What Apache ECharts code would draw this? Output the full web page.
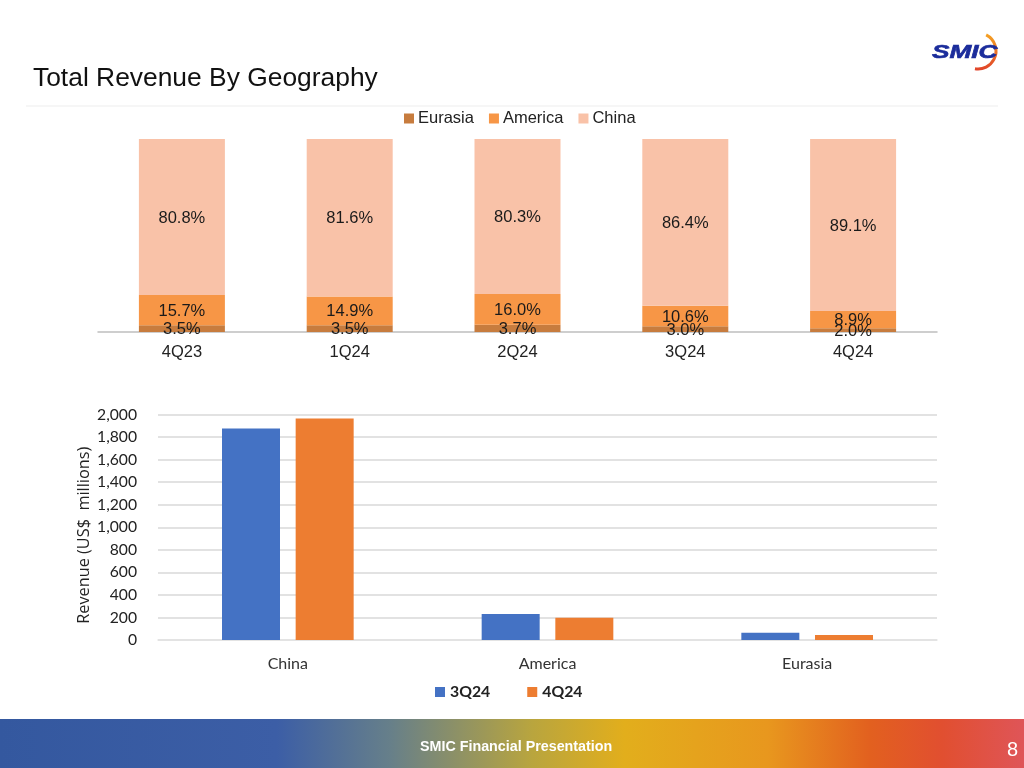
<!DOCTYPE html>
<html>
<head>
<meta charset="utf-8">
<title>Total Revenue By Geography</title>
<style>
html,body{margin:0;padding:0;background:#fff;}
#main{width:1024px;height:768px;}
</style>
<script src="https://cdn.jsdelivr.net/npm/echarts@6/dist/echarts.min.js"></script>
</head>
<body>
<div id="main"></div>
<script>
// top chart: share of revenue, %
var quarters = ["4Q23","1Q24","2Q24","3Q24","4Q24"];
var eurasiaShare = [3.5,3.5,3.7,3.0,2.0];
var americaShare = [15.7,14.9,16.0,10.6,8.9];
var chinaShare = [80.8,81.6,80.3,86.4,89.1];
// bottom chart: revenue, US$ millions
var regions = ["China","America","Eurasia"];
var revenue3Q24 = [1875,230,65];
var revenue4Q24 = [1965,198,45];

var arial = "Liberation Sans";
var calibri = "Lato";

function shareSeries(name, data, color){
    return {
        name: name,
        type: "bar",
        stack: "share",
        xAxisIndex: 0,
        yAxisIndex: 0,
        barWidth: 86,
        data: data,
        itemStyle: { color: color },
        label: {
            show: true,
            position: "inside",
            offset: [0,1],
            color: "#1a1a1a",
            fontFamily: arial,
            fontSize: 16.5,
            formatter: function(p){ return p.value.toFixed(1) + "%"; }
        }
    };
}
function revenueSeries(name, data, color){
    return {
        name: name,
        type: "bar",
        xAxisIndex: 1,
        yAxisIndex: 1,
        barWidth: 58,
        barGap: "27%",
        data: data,
        itemStyle: { color: color }
    };
}

var chart = echarts.init(document.getElementById("main"));
var option = {
    animation: false,
    backgroundColor: "#fff",
    legend: [{
        data: ["Eurasia","America","China"],
        left: 399,
        top: 105,
        itemWidth: 10,
        itemHeight: 10,
        itemGap: 15,
        icon: "rect",
        textStyle: { fontFamily: arial, fontSize: 16.5, color: "#222", padding: [0,0,0,-1] }
    },{
        data: ["3Q24","4Q24"],
        left: 430,
        top: 679,
        itemWidth: 10,
        itemHeight: 10,
        itemGap: 37,
        icon: "rect",
        textStyle: { fontFamily: calibri, fontSize: 15.8, fontWeight: "bold", color: "#222" }
    }],
    grid: [
        { left: 98, right: 87, top: 139, height: 193 },
        { left: 158, right: 87, top: 414.5, height: 225.5 }
    ],
    xAxis: [{
        gridIndex: 0,
        type: "category",
        data: quarters,
        axisTick: { show: false },
        axisLine: { lineStyle: { color: "#BFBFBF", width: 1.5 } },
        axisLabel: { fontFamily: arial, fontSize: 16.5, color: "#222", margin: 12 }
    },{
        gridIndex: 1,
        type: "category",
        data: regions,
        axisTick: { show: false },
        axisLine: { lineStyle: { color: "#E3E3E3", width: 1.5 } },
        axisLabel: { fontFamily: calibri, fontSize: 16, color: "#333", margin: 16 }
    }],
    yAxis: [{
        gridIndex: 0,
        type: "value",
        min: 0,
        max: 100,
        show: false
    },{
        gridIndex: 1,
        type: "value",
        min: 0,
        max: 2000,
        interval: 200,
        name: "Revenue (US$  millions)",
        nameLocation: "middle",
        nameGap: 66,
        nameMoveOverlap: false,
        nameTextStyle: { fontFamily: "Open Sans", fontSize: 16.3, color: "#222", padding: [0,16,0,0] },
        axisLine: { show: false },
        axisTick: { show: false },
        axisLabel: {
            fontFamily: calibri,
            fontSize: 15.7,
            color: "#222",
            margin: 21,
            formatter: function(v){ return v.toLocaleString("en-US"); }
        },
        splitLine: { lineStyle: { color: "#D9D9D9", width: 1.5 } }
    }],
    series: [
        shareSeries("Eurasia", eurasiaShare, "#C77C3E"),
        shareSeries("America", americaShare, "#F79646"),
        shareSeries("China", chinaShare, "#F9C2A8"),
        revenueSeries("3Q24", revenue3Q24, "#4472C4"),
        revenueSeries("4Q24", revenue4Q24, "#ED7D31")
    ],
    graphic: [
        // slide title and rule
        { type: "text", left: 33, top: 66, style: { text: "Total Revenue By Geography", fontFamily: arial, fontSize: 26.4, fill: "#111" } },
        { type: "rect", shape: { x: 26, y: 105.5, width: 972, height: 1 }, style: { fill: "#EEEEEE" } },
        // logo
        { type: "arc", shape: { cx: 978, cy: 51, r: 18, startAngle: -1.1, endAngle: 1.74 }, style: {
            fill: "none",
            lineWidth: 3,
            stroke: new echarts.graphic.LinearGradient(0, 0, 0, 1, [
                { offset: 0, color: "#F5A623" },
                { offset: 1, color: "#E0402A" }
            ])
        } },
        { type: "text", x: 932, y: 43, scaleX: 1.38, style: { text: "SMIC", fontFamily: arial, fontSize: 19, fontWeight: "bold", fontStyle: "italic", fill: "#1B2C9B", stroke: "#1B2C9B", lineWidth: 0.6 } },
        // footer band
        { type: "rect", shape: { x: 0, y: 719, width: 1024, height: 49 }, style: {
            fill: new echarts.graphic.LinearGradient(0, 0, 1, 0, [
                { offset: 0, color: "#34589F" },
                { offset: 0.27, color: "#3C5EA6" },
                { offset: 0.38, color: "#667F8A" },
                { offset: 0.52, color: "#B9A53E" },
                { offset: 0.61, color: "#E2AE1C" },
                { offset: 0.75, color: "#E8971E" },
                { offset: 0.85, color: "#E2601F" },
                { offset: 0.92, color: "#E14F30" },
                { offset: 1, color: "#DF5558" }
            ])
        } },
        { type: "text", left: 420, top: 740, style: { text: "SMIC Financial Presentation", fontFamily: arial, fontSize: 14.3, fontWeight: "bold", fill: "#fff" } },
        { type: "text", left: 1007, top: 740, style: { text: "8", fontFamily: arial, fontSize: 20, fill: "#fff" } }
    ]
};
chart.setOption(option);
</script>
</body>
</html>
